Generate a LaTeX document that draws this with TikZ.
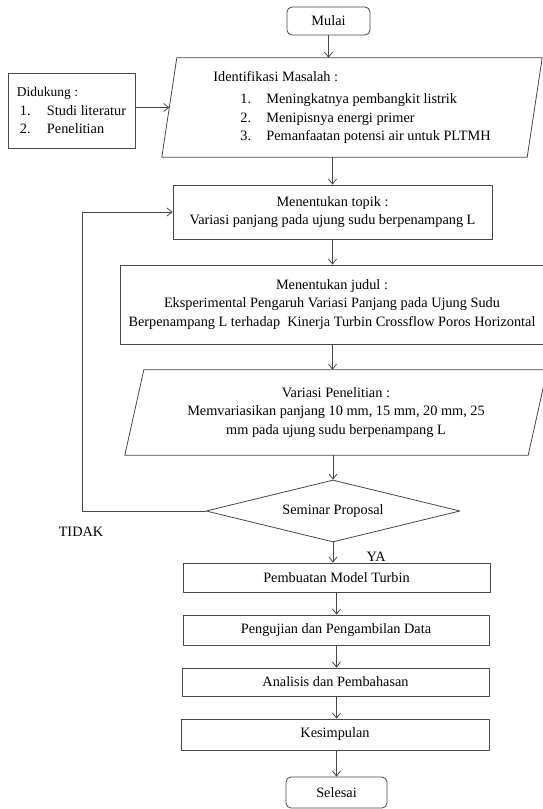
\documentclass[tikz,border=0pt]{standalone}
\usepackage{fontspec}
\setmainfont{Liberation Serif}
\usetikzlibrary{shapes.geometric,arrows.meta}
\newcommand{\butir}[2]{\makebox[26pt][l]{#1}#2}
\begin{document}
\begin{tikzpicture}[x=1pt, y=-1pt, font=\fontsize{14.3}{18.5}\selectfont, line join=round, line cap=round, >={Straight Barb[length=5pt,width=8pt]},
	garis/.style={draw=black!72, line width=0.8pt},
	kotak/.style={garis, rectangle, inner sep=0pt, align=center},
	ujung/.style={kotak, rounded corners=5pt},
	isi/.style={rectangle, inner sep=0pt, align=center},
	belah/.style={garis, diamond, inner sep=0pt, aspect=4}]
	\useasboundingbox (0,0) rectangle (543,809);
	% simpul
	\node[ujung, minimum width=83pt, minimum height=28pt] (mulai) at (328.5,21) {Mulai};
	\node[isi, minimum width=365pt, minimum height=99pt, align=left] (identifikasi) at (352,107.5) {\fontsize{14.3}{15.5}\selectfont Identifikasi Masalah :\\[3.5pt]
		\hspace*{27pt}\butir{1.}{Meningkatnya pembangkit listrik}\\
		\hspace*{27pt}\butir{2.}{Menipisnya energi primer}\\
		\hspace*{27pt}\butir{3.}{Pemanfaatan potensi air untuk PLTMH}};
	\node[kotak, minimum width=127pt, minimum height=75pt, align=left] (dukung) at (71.5,110.5) {\fontsize{13.5}{17}\selectfont Didukung :\\
		\hspace*{3pt}\makebox[27pt][l]{1.}Studi literatur\\
		\hspace*{3pt}\makebox[27pt][l]{2.}Penelitian};
	\node[kotak, minimum width=319pt, minimum height=54pt] (topik) at (332.5,212) {Menentukan topik :\\ Variasi panjang pada ujung sudu berpenampang L};
	\node[kotak, minimum width=424pt, minimum height=79pt] (judul) at (332,304.5) {Menentukan judul :\\ Eksperimental Pengaruh Variasi Panjang pada Ujung Sudu\\ Berpenampang L terhadap\ \ Kinerja Turbin Crossflow Poros Horizontal};
	\node[isi, minimum width=403pt, minimum height=85pt] (variasi) at (336,412.5) {Variasi Penelitian :\\ Memvariasikan panjang 10 mm, 15 mm, 20 mm, 25\\ mm pada ujung sudu berpenampang L};
	\node[belah, minimum width=254pt, minimum height=62pt] (seminar) at (333,511) {Seminar Proposal};
	\node[kotak, minimum width=307pt, minimum height=29pt] (pembuatan) at (336.5,577.5) {Pembuatan Model Turbin};
	\node[kotak, minimum width=306pt, minimum height=30pt] (pengujian) at (336,630) {Pengujian dan Pengambilan Data};
	\node[kotak, minimum width=307pt, minimum height=28pt] (analisis) at (335.5,682) {Analisis dan Pembahasan};
	\node[kotak, minimum width=308pt, minimum height=31pt] (kesimpulan) at (335,734.5) {Kesimpulan};
	\node[ujung, minimum width=101pt, minimum height=31pt] (selesai) at (336.5,792.5) {Selesai};
	\node (tidak) at (81,532) {TIDAK};
	\coordinate (balik) at (82,511);
	% jajaran genjang
	\draw[garis] ([xshift=7.5pt]identifikasi.north west) -- ([xshift=7.5pt]identifikasi.north east) -- ([xshift=-7.5pt]identifikasi.south east) -- ([xshift=-7.5pt]identifikasi.south west) -- cycle;
	\draw[garis] ([xshift=9.5pt]variasi.north west) -- ([xshift=9.5pt]variasi.north east) -- ([xshift=-9.5pt]variasi.south east) -- ([xshift=-9.5pt]variasi.south west) -- cycle;
	% panah
	\draw[garis, ->] (mulai.south) -- (mulai.south |- identifikasi.north);
	\draw[garis, ->] (dukung.east |- identifikasi.west) -- (identifikasi.west);
	\draw[garis, ->] (topik.north |- identifikasi.south) -- (topik.north);
	\draw[garis, ->] (topik.south) -- (topik.south |- judul.north);
	\draw[garis, ->] (topik.south |- judul.south) -- (topik.south |- variasi.north);
	\draw[garis, ->] (seminar.north |- variasi.south) -- (seminar.north);
	\draw[garis, ->] (seminar.south) -- (seminar.south |- pembuatan.north) node[pos=0.7, right=30pt] (ya) {YA};
	\draw[garis, ->] (seminar.west) -- (balik) |- (topik.west);
	\draw[garis, ->] (pembuatan.south) -- (pembuatan.south |- pengujian.north);
	\draw[garis, ->] (pembuatan.south |- pengujian.south) -- (pembuatan.south |- analisis.north);
	\draw[garis, ->] (pembuatan.south |- analisis.south) -- (pembuatan.south |- kesimpulan.north);
	\draw[garis, ->] (pembuatan.south |- kesimpulan.south) -- (pembuatan.south |- selesai.north);
\end{tikzpicture}
\end{document}
